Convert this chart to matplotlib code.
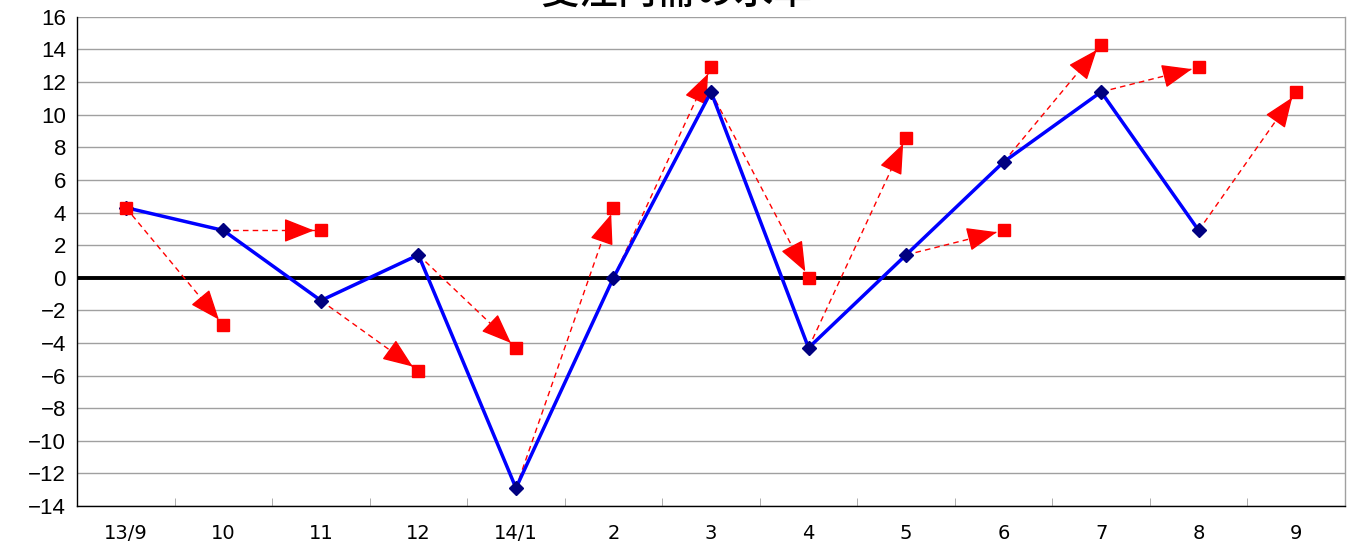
import numpy as np
import matplotlib
matplotlib.use("Agg")
import matplotlib.pyplot as plt

# months on the category axis
months = ["13/9", "10", "11", "12", "14/1", "2", "3", "4", "5", "6", "7", "8", "9"]
# actual values (blue), last month not yet out
actual = [4.3, 2.9, -1.4, 1.4, -12.9, 0.0, 11.4, -4.3, 1.4, 7.1, 11.4, 2.9]
# forecast values (red squares)
forecast = [4.3, -2.9, 2.9, -5.7, -4.3, 4.3, 12.9, 0.0, 8.6, 2.9, 14.3, 12.9, 11.4]
title = "受注内需の水準"

fig = plt.figure(figsize=(13.52, 5.44), dpi=100)
ax = fig.add_axes([0.057, 0.0699, 0.9378, 0.8991])

x = np.arange(len(months))

# grid + zero line
ax.set_ylim(-14, 16)
ax.set_xlim(-0.5, len(months) - 0.5)
ax.set_yticks(np.arange(-14, 17, 2))
ax.yaxis.grid(True, color="#a0a0a0", lw=1)
ax.set_axisbelow(True)
ax.axhline(0, color="black", lw=2.8, zorder=2)

# dashed arrows from last actual to next forecast
for i in range(1, len(forecast)):
    x0, y0 = x[i - 1], actual[i - 1]
    x1, y1 = x[i], forecast[i]
    ax.plot([x0, x1], [y0, y1], color="red", lw=1, ls=(0, (4, 3)), zorder=3)
    # solid head, placed just short of the square
    p0 = ax.transData.transform((x0, y0))
    p1 = ax.transData.transform((x1, y1))
    u = (p1 - p0) / np.hypot(*(p1 - p0))
    off = -u * 26 * 72 / 100
    ax.annotate("", xy=(x1, y1), xytext=(off[0], off[1]), textcoords="offset points",
                arrowprops=dict(arrowstyle="-|>,head_length=1.9,head_width=0.75",
                                mutation_scale=10, color="red", lw=1,
                                shrinkA=0, shrinkB=5),
                zorder=3)

ax.plot(x[:len(actual)], actual, color="#0000ff", lw=2.5, marker="D",
        markersize=7, markerfacecolor="#000080", markeredgecolor="#000080", zorder=4)
ax.plot(x, forecast, ls="none", marker="s", markersize=9, color="red", zorder=5)

# axes styling
ax.set_xticks(x)
ax.set_xticklabels(months, family="Liberation Sans Narrow", fontsize=14)
ax.set_xticks(x[:-1] + 0.5, minor=True)
ax.tick_params(axis="x", which="major", length=0, pad=13)
ax.tick_params(axis="x", which="minor", direction="in", length=6, color="#a0a0a0")
ax.tick_params(axis="y", length=0, labelsize=16, pad=8)
for lab in ax.get_yticklabels():
    lab.set_family("Liberation Sans")
for s in ax.spines.values():
    s.set_color("black")
    s.set_linewidth(1)
ax.spines["right"].set_color("#a0a0a0")
ax.spines["top"].set_visible(False)

fig.text(0.5, 1 - 13 / 544, title, ha="center", va="bottom", fontsize=28,
         family=["Noto Sans CJK JP", "DejaVu Sans"], fontweight="medium")

fig.savefig("out.png", dpi=100)
